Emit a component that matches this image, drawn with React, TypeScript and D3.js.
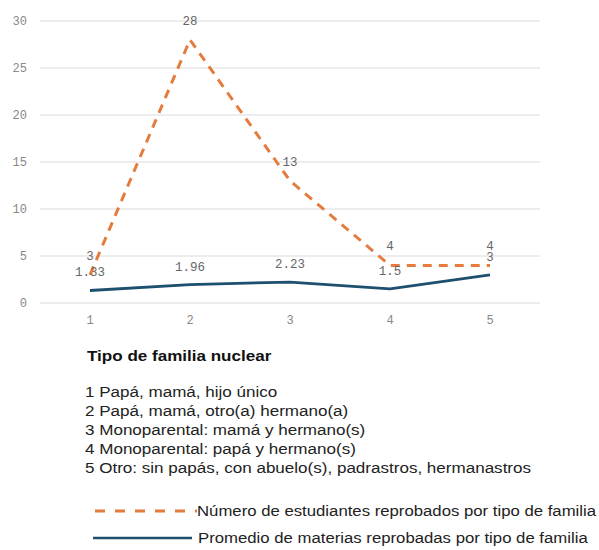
import React from "react";
import * as d3 from "d3";

const categories = ["1", "2", "3", "4", "5"];
const studentsFailed = [3, 28, 13, 4, 4];
const avgSubjectsFailed = [1.33, 1.96, 2.23, 1.5, 3];
const avgLabels = ["1.33", "1.96", "2.23", "1.5", "3"];
const yTicks = [0, 5, 10, 15, 20, 25, 30];
const chartTitle = "Tipo de familia nuclear";
const familyTypes = [
  "1 Papá, mamá, hijo único",
  "2 Papá, mamá, otro(a) hermano(a)",
  "3 Monoparental: mamá y hermano(s)",
  "4 Monoparental: papá y hermano(s)",
  "5 Otro: sin papás, con abuelo(s), padrastros, hermanastros",
];
const seriesNames = [
  "Número de estudiantes reprobados por tipo de familia",
  "Promedio de materias reprobadas por tipo de familia",
];

const ORANGE = "#e47c3e";
const BLUE = "#1d4f6e";

export default function App() {
  const W = 599;
  const H = 550;
  const x = d3.scalePoint<string>().domain(categories).range([40, 540]).padding(0.5);
  const y = d3.scaleLinear().domain([0, 30]).range([303, 21]);

  const line = d3
    .line<number>()
    .x((_, i) => x(categories[i]) as number)
    .y((d) => y(d));

  const mono = "'Liberation Mono', 'DejaVu Sans Mono', monospace";
  const sans = "'Liberation Sans', Arial, sans-serif";
  const sx = 1.1;
  const sxLegend = 1.08;
  const SANS_SIZE = 15.5;

  return (
    <svg
      width={W}
      height={H}
      style={{ position: "absolute", left: 0, top: 0, background: "#fff" }}
    >
      <rect x={0} y={0} width={W} height={H} fill="#fff" />
      {yTicks.map((t) => (
        <g key={t}>
          <line x1={40} x2={540} y1={y(t)} y2={y(t)} stroke="#dadada" strokeWidth={1} />
          <text
            x={27}
            y={y(t) + 4}
            textAnchor="end"
            fontFamily={mono}
            fontSize={12}
            fill="#888"
          >
            {t}
          </text>
        </g>
      ))}
      {categories.map((c) => (
        <text
          key={c}
          x={x(c)}
          y={324}
          textAnchor="middle"
          fontFamily={mono}
          fontSize={12}
          fill="#888"
        >
          {c}
        </text>
      ))}
      <path
        d={line(avgSubjectsFailed) || ""}
        fill="none"
        stroke={BLUE}
        strokeWidth={2.8}
        strokeLinejoin="round"
      />
      <path
        d={line(studentsFailed) || ""}
        fill="none"
        stroke={ORANGE}
        strokeWidth={3}
        strokeDasharray="9,7"
      />
      {studentsFailed.map((v, i) => (
        <text
          key={"s" + i}
          x={x(categories[i])}
          y={y(v) - 15}
          textAnchor="middle"
          fontFamily={mono}
          fontSize={12.5}
          fill="#666"
        >
          {v}
        </text>
      ))}
      {avgSubjectsFailed.map((v, i) => (
        <text
          key={"a" + i}
          x={x(categories[i])}
          y={y(v) - 14}
          textAnchor="middle"
          fontFamily={mono}
          fontSize={12.5}
          fill="#666"
        >
          {avgLabels[i]}
        </text>
      ))}
      <text
        transform={`translate(87,361) scale(${sx},1)`}
        fontFamily={sans}
        fontSize={SANS_SIZE}
        fontWeight="bold"
        fill="#111"
      >
        {chartTitle}
      </text>
      {familyTypes.map((t, i) => (
        <text
          key={t}
          transform={`translate(85,${397 + i * 19}) scale(${sx},1)`}
          fontFamily={sans}
          fontSize={SANS_SIZE}
          fill="#222"
        >
          {t}
        </text>
      ))}
      <line
        x1={95}
        x2={197}
        y1={511}
        y2={511}
        stroke={ORANGE}
        strokeWidth={3}
        strokeDasharray="10,10"
      />
      <text
        transform={`translate(197,516) scale(${sxLegend},1)`}
        fontFamily={sans}
        fontSize={SANS_SIZE}
        fill="#222"
      >
        {seriesNames[0]}
      </text>
      <line x1={93} x2={192} y1={538} y2={538} stroke={BLUE} strokeWidth={2.5} />
      <text
        transform={`translate(198,543) scale(${sxLegend},1)`}
        fontFamily={sans}
        fontSize={SANS_SIZE}
        fill="#222"
      >
        {seriesNames[1]}
      </text>
    </svg>
  );
}
